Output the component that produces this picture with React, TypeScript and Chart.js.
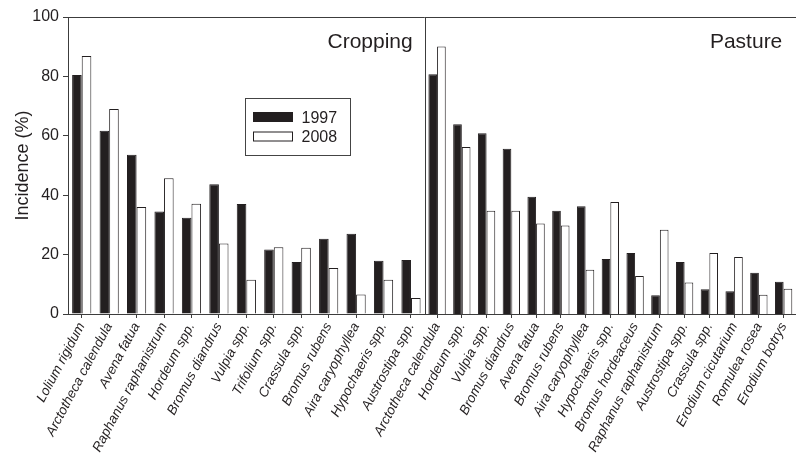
import React, { useEffect, useRef } from "react";
import { Chart, registerables } from "chart.js";

Chart.register(...registerables);

// ---------------- data ----------------
const seriesNames = ["1997", "2008"];
const panelNames = ["Cropping", "Pasture"];
const yAxisTitle = "Incidence (%)";
const yTickValues = [0, 20, 40, 60, 80, 100];

const croppingSpecies = [
  "Lolium rigidum",
  "Arctotheca calendula",
  "Avena fatua",
  "Raphanus raphanistrum",
  "Hordeum spp.",
  "Bromus diandrus",
  "Vulpia spp.",
  "Trifolium spp.",
  "Crassula spp.",
  "Bromus rubens",
  "Aira caryophyllea",
  "Hypochaeris spp.",
  "Austrostipa spp.",
];
const cropping1997 = [80.5, 61.7, 53.6, 34.5, 32.4, 43.7, 37.0, 21.7, 17.5, 25.3, 27.0, 17.9, 18.2];
const cropping2008 = [86.9, 69.0, 36.0, 45.7, 37.1, 23.7, 11.5, 22.5, 22.3, 15.5, 6.6, 11.5, 5.4];

const pastureSpecies = [
  "Arctotheca calendula",
  "Hordeum spp.",
  "Vulpia spp.",
  "Bromus diandrus",
  "Avena fatua",
  "Bromus rubens",
  "Aira caryophyllea",
  "Hypochaeris spp.",
  "Bromus hordeaceus",
  "Raphanus raphanistrum",
  "Austrostipa spp.",
  "Crassula spp.",
  "Erodium cicutarium",
  "Romulea rosea",
  "Erodium botrys",
];
const pasture1997 = [80.7, 63.9, 60.9, 55.6, 39.5, 34.8, 36.3, 18.5, 20.5, 6.3, 17.5, 8.3, 7.7, 13.9, 10.9];
const pasture2008 = [90.1, 56.2, 34.8, 34.8, 30.5, 29.8, 14.9, 37.7, 12.8, 28.4, 10.6, 20.5, 19.2, 6.5, 8.5];

// ---------------- styles / layout ----------------
const FONT = "'Liberation Sans', Arial, Helvetica, sans-serif";
const INK = "#231f20";
const AXIS = "#3c3c3c";
const W = 796;
const H = 462;
const PLOT_TOP = 17;
const PLOT_BOTTOM = 314;
const AXIS_X = 68;
const DIVIDER_X = 424.7;

const seriesFill = [INK, "#ffffff"];

const framePlugin = {
  id: "frame",
  afterDraw(chart: any, _args: any, opts: any) {
    const { ctx, chartArea: a } = chart;
    ctx.save();
    ctx.strokeStyle = AXIS;
    ctx.lineWidth = 1;
    ctx.beginPath();
    const ty = Math.round(a.top) + 0.5;
    ctx.moveTo(a.left, ty);
    ctx.lineTo(a.right, ty);
    if (opts.leftLine) {
      const lx = Math.round(a.left) + 0.5;
      ctx.moveTo(lx, a.top);
      ctx.lineTo(lx, a.bottom);
    }
    ctx.stroke();

    ctx.fillStyle = INK;
    ctx.font = `21px ${FONT}`;
    ctx.textAlign = "right";
    ctx.textBaseline = "alphabetic";
    ctx.fillText(opts.title, a.right - opts.titleInset, 47.5);

    if (opts.legend) {
      const ds = chart.data.datasets;
      ctx.strokeStyle = "#444";
      ctx.strokeRect(245.5, 98.5, 105, 57);
      ctx.font = `16px ${FONT}`;
      ctx.textAlign = "left";
      ds.forEach((d: any, i: number) => {
        const sy = 112.5 + i * 19.5;
        ctx.fillStyle = d.backgroundColor;
        ctx.fillRect(253.5, sy, 39, 9);
        ctx.strokeStyle = INK;
        ctx.strokeRect(253.5, sy, 39, 9);
        ctx.fillStyle = INK;
        ctx.fillText(d.label, 301.5, 122.7 + i * 19.5);
      });
    }
    ctx.restore();
  },
};

function makeConfig(labels: string[], a: number[], b: number[], left: boolean): any {
  return {
    type: "bar",
    data: {
      labels,
      datasets: [a, b].map((vals, i) => ({
        label: seriesNames[i],
        data: vals,
        backgroundColor: seriesFill[i],
        borderColor: INK,
        borderWidth: 1,
        categoryPercentage: 0.7,
        barPercentage: 1.0,
      })),
    },
    options: {
      responsive: false,
      animation: false,
      devicePixelRatio: 1,
      layout: {
        padding: left
          ? { left: 0, right: W - DIVIDER_X, top: PLOT_TOP, bottom: 0 }
          : { left: DIVIDER_X, right: 0, top: PLOT_TOP, bottom: 0 },
      },
      plugins: {
        legend: { display: false },
        tooltip: { enabled: false },
        frame: {
          title: left ? panelNames[0] : panelNames[1],
          titleInset: left ? 12 : 13.7,
          leftLine: !left,
          legend: left,
        },
      },
      scales: {
        x: {
          type: "category",
          offset: true,
          grid: {
            display: true,
            drawOnChartArea: false,
            drawTicks: true,
            tickLength: 4,
            offset: false,
            color: AXIS,
          },
          border: { display: true, color: AXIS },
          ticks: {
            autoSkip: false,
            minRotation: 62,
            maxRotation: 62,
            padding: 2,
            color: INK,
            font: { family: FONT, size: 13.5, style: "italic" },
          },
          afterFit: (s: any) => {
            s.height = H - PLOT_BOTTOM;
            s.paddingLeft = 0;
            s.paddingRight = 0;
          },
        },
        y: {
          display: left,
          min: 0,
          max: 100,
          afterBuildTicks: (s: any) => {
            s.ticks = yTickValues.map((v) => ({ value: v }));
          },
          grid: {
            display: true,
            drawOnChartArea: false,
            drawTicks: true,
            tickLength: 5,
            color: AXIS,
          },
          border: { display: true, color: AXIS },
          ticks: {
            padding: 4,
            color: INK,
            font: { family: FONT, size: 16 },
          },
          title: {
            display: left,
            text: yAxisTitle,
            color: INK,
            font: { family: FONT, size: 18 },
            padding: { top: 12, bottom: 0 },
          },
          afterFit: (s: any) => {
            s.width = left ? AXIS_X : 0;
          },
        },
      },
    },
    plugins: [framePlugin],
  };
}

export default function App() {
  const leftRef = useRef<HTMLCanvasElement>(null);
  const rightRef = useRef<HTMLCanvasElement>(null);

  useEffect(() => {
    const c1 = new Chart(leftRef.current as HTMLCanvasElement, makeConfig(croppingSpecies, cropping1997, cropping2008, true));
    const c2 = new Chart(rightRef.current as HTMLCanvasElement, makeConfig(pastureSpecies, pasture1997, pasture2008, false));
    return () => {
      c1.destroy();
      c2.destroy();
    };
  }, []);

  const canvasStyle: React.CSSProperties = { position: "absolute", left: 0, top: 0, width: W, height: H };
  return (
    <div style={{ position: "fixed", left: 0, top: 0, width: W, height: H, background: "#fff" }}>
      <canvas ref={leftRef} width={W} height={H} style={canvasStyle} />
      <canvas ref={rightRef} width={W} height={H} style={canvasStyle} />
    </div>
  );
}
